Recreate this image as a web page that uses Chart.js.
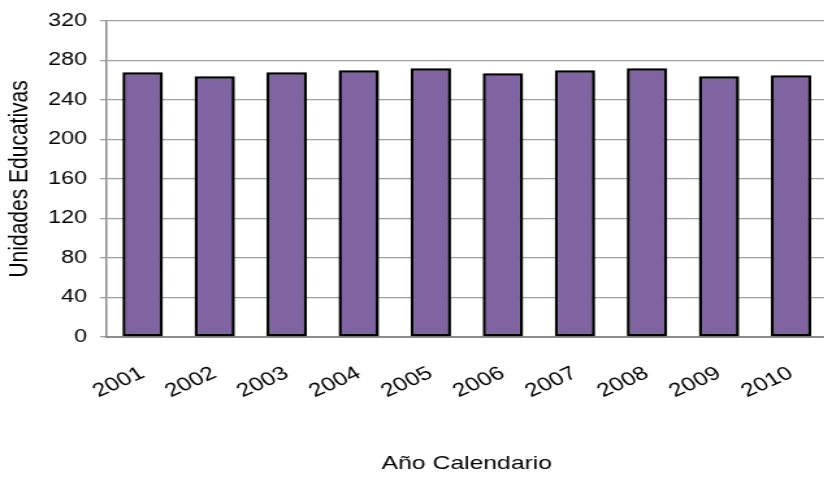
<!DOCTYPE html>
<html>
<head>
<meta charset="utf-8">
<script src="https://cdn.jsdelivr.net/npm/chart.js@4"></script>
<style>
html,body{margin:0;padding:0;background:#fff;overflow:hidden;width:824px;height:477px;}
#wrap{position:absolute;left:0;top:0;width:645px;height:477px;transform:scaleX(1.3);transform-origin:0 0;}
</style>
</head>
<body>
<div id="wrap"><canvas id="c" width="645" height="477"></canvas></div>
<script>
const years = ["2001","2002","2003","2004","2005","2006","2007","2008","2009","2010"];
const unidades = [268, 264, 268, 270, 272, 267, 270, 272, 264, 265];
const yTicks = [0, 40, 80, 120, 160, 200, 240, 280, 320];

const FONT = 'Liberation Sans, Arial, sans-serif';

const shadowPlugin = {
  id: 'barShadow',
  beforeDatasetsDraw(chart) {
    const ctx = chart.ctx;
    ctx.save();
    ctx.shadowColor = 'rgba(0,0,0,0.35)';
    ctx.shadowBlur = 4;
    ctx.shadowOffsetX = 2;
    ctx.shadowOffsetY = 2;
  },
  afterDatasetsDraw(chart) {
    chart.ctx.restore();
  }
};

new Chart(document.getElementById('c'), {
  type: 'bar',
  data: {
    labels: years,
    datasets: [{
      data: unidades,
      backgroundColor: '#8064A2',
      borderColor: '#000000',
      borderWidth: 2.5,
      borderSkipped: false,
      barPercentage: 0.56,
      categoryPercentage: 1.0
    }]
  },
  plugins: [shadowPlugin],
  options: {
    responsive: false,
    animation: false,
    devicePixelRatio: 1,
    layout: { padding: { top: 14, left: 0, right: 2, bottom: 0 } },
    plugins: { legend: { display: false }, tooltip: { enabled: false } },
    scales: {
      x: {
        grid: { display: false, drawTicks: false },
        border: { display: true, color: '#8c8c8c', width: 2 },
        ticks: {
          color: '#000', font: { family: FONT, size: 19 },
          minRotation: 30, maxRotation: 30, padding: 25, autoSkip: false
        },
        title: {
          display: true, text: 'Año Calendario', color: '#000',
          font: { family: FONT, size: 19 },
          padding: { top: 0, bottom: 2 }
        },
        afterFit(scale) { scale.height = 477 - 337; }
      },
      y: {
        min: 0, max: 320,
        afterBuildTicks(scale) { scale.ticks = yTicks.map(v => ({ value: v })); },
        grid: { color: '#a0a0a0', lineWidth: 1.3, tickLength: 5, drawTicks: true },
        border: { display: true, color: '#8c8c8c', width: 1.5 },
        ticks: {
          color: '#000', font: { family: FONT, size: 18 },
          padding: 10
        },
        title: {
          display: true, text: 'Unidades Educativas', color: '#000',
          font: { family: FONT, size: 21 },
          padding: { top: 3, bottom: 0 }
        },
        afterFit(scale) { scale.width = 82; }
      }
    }
  }
});
</script>
</body>
</html>
